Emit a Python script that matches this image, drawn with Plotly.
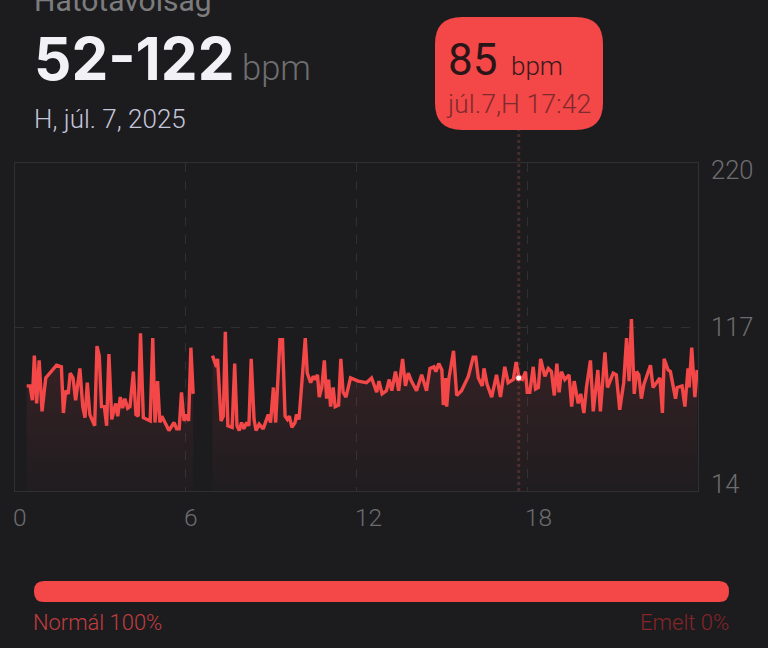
import plotly.graph_objects as go

# heart rate over the day, None marks the gap in the recording
hours = [0.41, 0.53, 0.61, 0.68, 0.76, 0.85, 0.95, 1.08, 1.46, 1.63, 1.70, 1.78, 1.87, 1.94, 2.04, 2.13, 2.28, 2.38, 2.46, 2.54,
         2.63, 2.80, 2.88, 2.96, 3.04, 3.14, 3.22, 3.30, 3.40, 3.54, 3.61, 3.70, 3.78, 3.86, 3.96, 4.04, 4.16, 4.25, 4.33, 4.41,
         4.51, 4.66, 4.75, 4.84, 4.92, 5.01, 5.09, 5.16, 5.27, 5.41, 5.59, 5.68, 5.77, 5.85, 5.94, 6.03, 6.10, 6.18, 6.26, 6.5,
         6.94, 7.08, 7.12, 7.24, 7.32, 7.39, 7.48, 7.63, 7.72, 7.80, 7.88, 7.96, 8.04, 8.14, 8.22, 8.30, 8.40, 8.47, 8.58, 8.72,
         8.90, 8.98, 9.08, 9.16, 9.31, 9.40, 9.49, 9.57, 9.64, 9.73, 9.84, 9.89, 9.98, 10.20, 10.27, 10.39, 10.48, 10.56, 10.63, 10.69,
         10.78, 10.87, 10.95, 11.02, 11.09, 11.18, 11.25, 11.37, 11.45, 11.53, 11.63, 11.79, 12.06, 12.35, 12.53, 12.71, 12.79, 12.90, 13.05, 13.15,
         13.24, 13.37, 13.48, 13.62, 13.72, 13.82, 13.93, 14.11, 14.29, 14.46, 14.58, 14.72, 14.79, 14.89, 15.00, 15.05, 15.13, 15.17, 15.25, 15.41,
         15.52, 15.69, 15.93, 16.10, 16.19, 16.28, 16.42, 16.48, 16.59, 16.75, 16.92, 17.06, 17.21, 17.33, 17.51, 17.61, 17.71, 17.83, 17.94, 18.00,
         18.09, 18.21, 18.29, 18.39, 18.47, 18.62, 18.74, 18.85, 18.95, 19.04, 19.12, 19.20, 19.32, 19.47, 19.56, 19.65, 19.79, 19.88, 19.99, 20.08,
         20.22, 20.32, 20.48, 20.57, 20.73, 20.82, 21.02, 21.13, 21.25, 21.39, 21.49, 21.58, 21.66, 21.76, 21.84, 21.92, 22.01, 22.10, 22.33, 22.42,
         22.66, 22.75, 22.81, 22.95, 23.03, 23.21, 23.27, 23.44, 23.54, 23.65, 23.69, 23.78, 23.89, 23.97]
bpm = [80, 80, 71, 99, 69, 96, 64, 85, 93, 92, 63, 77, 75, 88, 85, 71, 91, 67, 60, 82,
       62, 55, 105, 99, 67, 67, 55, 100, 59, 69, 61, 73, 66, 72, 66, 67, 89, 62, 61, 113,
       60, 59, 58, 110, 57, 83, 57, 61, 57, 52, 57, 53, 53, 76, 58, 62, 58, 104, 75, None,
       99, 92, 97, 58, 61, 114, 55, 54, 94, 55, 52, 57, 53, 57, 55, 97, 59, 52, 56, 53,
       62, 57, 79, 57, 109, 109, 61, 59, 61, 54, 57, 62, 59, 110, 88, 82, 86, 84, 87, 73,
       79, 96, 72, 84, 67, 79, 67, 68, 97, 76, 73, 85, 83, 82, 85, 76, 83, 75, 77, 84,
       77, 89, 77, 97, 80, 88, 83, 77, 87, 77, 91, 92, 89, 94, 90, 68, 85, 67, 85, 102,
       74, 77, 86, 98, 98, 85, 80, 91, 81, 73, 87, 73, 92, 82, 84, 95, 85, 84, 89, 76,
       76, 92, 78, 79, 97, 86, 91, 89, 74, 94, 76, 89, 84, 87, 67, 83, 69, 75, 63, 79,
       96, 64, 90, 64, 101, 79, 88, 87, 65, 82, 110, 83, 122, 75, 89, 87, 72, 81, 93, 79,
       85, 63, 97, 90, 89, 72, 79, 80, 67, 91, 79, 104, 73, 90]

x_ticks = [0, 6, 12, 18]
y_ticks = [220, 117, 14]
y_shift = [-7, 0, 7]
picked_hour = 17.7
picked_bpm = 85

BG = "#1c1c1f"
RED = "#f44747"
GRID = "#303033"
W, H = 768, 648


def px(x):
    return x / W


def py(y):
    return 1 - y / H


def round_box(x0, y0, x1, y1, r):
    return (f"M {px(x0 + r)} {py(y0)} L {px(x1 - r)} {py(y0)} Q {px(x1)} {py(y0)} {px(x1)} {py(y0 + r)} "
            f"L {px(x1)} {py(y1 - r)} Q {px(x1)} {py(y1)} {px(x1 - r)} {py(y1)} "
            f"L {px(x0 + r)} {py(y1)} Q {px(x0)} {py(y1)} {px(x0)} {py(y1 - r)} "
            f"L {px(x0)} {py(y0 + r)} Q {px(x0)} {py(y0)} {px(x0 + r)} {py(y0)} Z")


def label(text, x, y, size, color, anchor="left", family="Roboto", weight=300):
    fig.add_annotation(text=text, x=px(x), y=py(y), xref="paper", yref="paper", xanchor=anchor, yanchor="middle",
                       showarrow=False, borderpad=0, font=dict(family=family, size=size, color=color, weight=weight))


fig = go.Figure()
gap = bpm.index(None)
for xs, ys in [(hours[:gap], bpm[:gap]), (hours[gap + 1:], bpm[gap + 1:])]:
    # see-through fill so the grid and the stem still show under it
    fig.add_trace(go.Scatter(x=xs, y=ys, mode="lines", line=dict(color=RED, width=3.4), fill="tozeroy",
                             fillgradient=dict(type="vertical",
                                               colorscale=[[0, "rgba(244,71,71,0)"], [1, "rgba(244,71,71,0.14)"]])))
fig.add_trace(go.Scatter(x=[picked_hour], y=[picked_bpm], mode="markers",
                         marker=dict(color="white", size=6, line=dict(color=RED, width=1))))

fig.update_xaxes(range=[0, 24], domain=[px(15), px(698)], tickvals=x_ticks[1:], showticklabels=False, ticks="",
                 showgrid=True, gridcolor=GRID, griddash="dash", gridwidth=1, zeroline=False,
                 showline=True, linecolor=GRID, linewidth=1, mirror=True)
fig.update_yaxes(range=[14, 220], domain=[py(491), py(163)], tickvals=[y_ticks[1]], showticklabels=False, ticks="",
                 showgrid=True, gridcolor=GRID, griddash="dash", gridwidth=1, zeroline=False,
                 showline=True, linecolor=GRID, linewidth=1, mirror=True)

fig.update_layout(width=W, height=H, margin=dict(l=0, r=0, t=0, b=0), showlegend=False,
                  paper_bgcolor=BG, plot_bgcolor=BG)

# callout, its stem and the range bar
fig.add_shape(type="line", xref="x", yref="paper", x0=picked_hour, x1=picked_hour, y0=py(491), y1=py(130),
              line=dict(color="#472c2c", width=3, dash="dot"), layer="below")
fig.add_shape(type="path", path=round_box(435, 17, 603, 130, 27), xref="paper", yref="paper",
              fillcolor=RED, line=dict(width=0))
fig.add_shape(type="path", path=round_box(34, 581, 729, 602, 10), xref="paper", yref="paper",
              fillcolor=RED, line=dict(width=0))

label("Hatótávolság", 33, 0, 30, "#7c7c7e", weight=400)
label("52-122", 33, 59, 58.5, "#f1f1f6", family="Inter", weight=700)
label("bpm", 241, 68, 34.5, "#6e6e70")
label("H, júl. 7, 2025", 33, 119, 26, "#c6c6da")

label("85", 447, 60, 44, "#2a1518", weight=400)
label("bpm", 510, 66, 26, "#3a1a1c")
label("júl.7,H 17:42", 445, 104, 26.7, "#7f2a2f")

label("Normál 100%", 32, 622, 21.9, "#c23c40")
label("Emelt 0%", 730, 622, 22, "#862428", anchor="right")

for t in x_ticks:
    fig.add_annotation(text=str(t), x=t, y=py(517), xref="x", yref="paper", xanchor="left", yanchor="middle", xshift=-3,
                       showarrow=False, borderpad=0, font=dict(family="Roboto", size=24.5, color="#6d6d6f", weight=300))
for t, s in zip(y_ticks, y_shift):
    fig.add_annotation(text=str(t), x=px(710), y=t, xref="paper", yref="y", yshift=s, xanchor="left", yanchor="middle",
                       showarrow=False, borderpad=0, font=dict(family="Roboto", size=25.5, color="#6d6d6f", weight=300))

fig.write_html("out.html", config=dict(displayModeBar=False),
               post_script="document.body.style.margin='0';document.body.style.background='" + BG + "';")
